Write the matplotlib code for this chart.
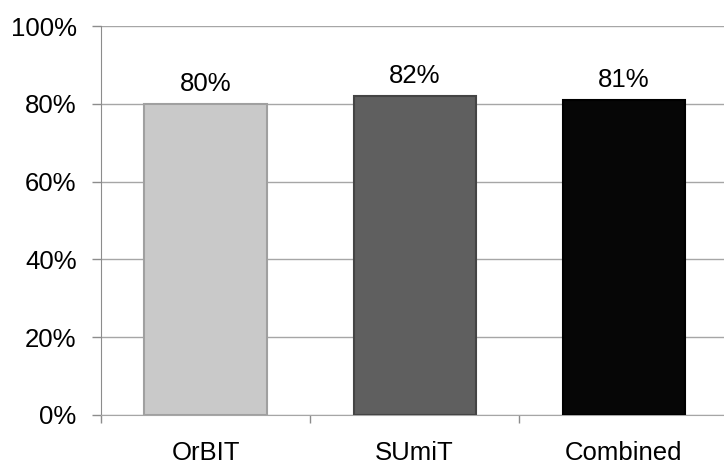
import matplotlib
matplotlib.use("Agg")
from matplotlib import pyplot as plt
from matplotlib.ticker import PercentFormatter

plt.rcParams["font.family"] = ["Liberation Sans", "DejaVu Sans"]

groups = ["OrBIT", "SUmiT", "Combined"]
share = [80, 82, 81]
fills = ["#c9c9c9", "#5f5f5f", "#060606"]
edges = ["#a0a0a0", "#444444", "#000000"]

fs = 18.5

fig = plt.figure(figsize=(7.24, 4.66), dpi=100)
ax = fig.add_axes([101 / 724, 1 - 415 / 466, 1 - 101 / 724 + 0.006, (415 - 26) / 466])

x = range(len(groups))
bars = ax.bar(x, share, width=0.585, color=fills, edgecolor=edges, linewidth=1.5, zorder=3)

# value labels on top of each bar
for b, v in zip(bars, share):
    ax.text(b.get_x() + b.get_width() / 2, v + 3.4, f"{v}%",
            ha="center", va="baseline", fontsize=fs)

ax.set_ylim(0, 100)
ax.set_xlim(-0.5, 2.5)
ax.set_yticks(range(0, 101, 20))
ax.yaxis.set_major_formatter(PercentFormatter(decimals=0))
ax.set_xticks(x)
ax.set_xticklabels(groups)
ax.set_xticks([-0.5, 0.5, 1.5, 2.5], minor=True)

# gridlines and axis styling
ax.grid(axis="y", color="#a6a6a6", lw=1, zorder=0)
for side in ["top", "right"]:
    ax.spines[side].set_visible(False)
ax.spines["left"].set_color("#8c8c8c")
ax.spines["bottom"].set_color("#a6a6a6")
ax.tick_params(axis="y", length=6.5, width=1, color="#8c8c8c", pad=11, labelsize=fs)
ax.tick_params(axis="x", which="major", length=0, pad=19, labelsize=fs)
ax.tick_params(axis="x", which="minor", length=6, width=1, color="#8c8c8c")

fig.savefig("out.png", dpi=100)
